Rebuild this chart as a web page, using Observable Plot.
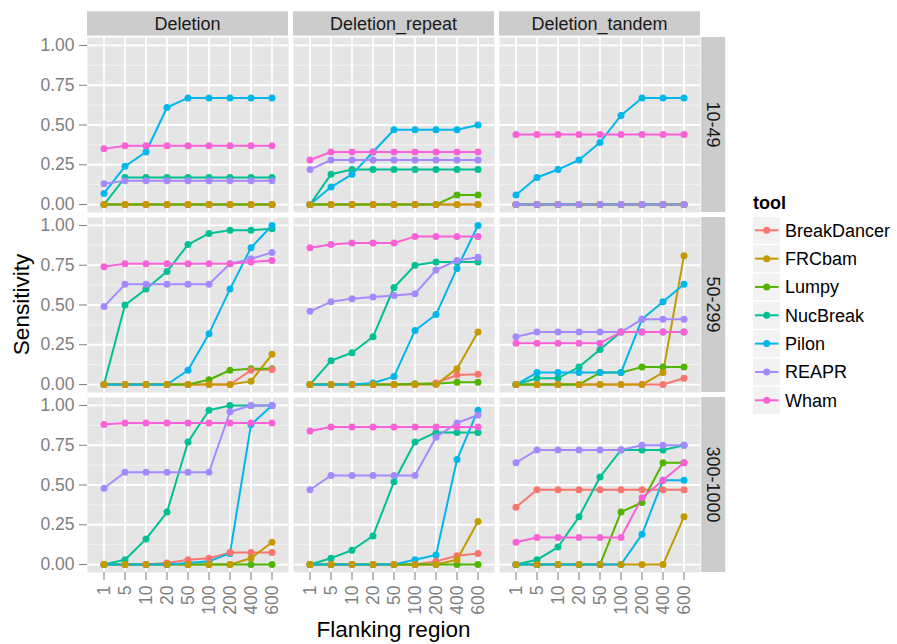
<!DOCTYPE html>
<html><head><meta charset="utf-8">
<script src="https://cdn.jsdelivr.net/npm/d3@7"></script>
<script src="https://cdn.jsdelivr.net/npm/@observablehq/plot@0.6"></script>
<style>html,body{margin:0;padding:0;background:#fff;} #chart svg{display:block;}</style>
</head><body><div id="chart"></div>
<script>
const tools = ["BreakDancer","FRCbam","Lumpy","NucBreak","Pilon","REAPR","Wham"];
const toolColors = ["#F8766D","#C49A00","#53B400","#00C094","#00B6EB","#A58AFF","#FB61D7"];
const flank = ["1","5","10","20","50","100","200","400","600"];
const svTypes = ["Deletion","Deletion_repeat","Deletion_tandem"];
const sizeBins = ["10-49","50-299","300-1000"];
const yTicks = [0, 0.25, 0.5, 0.75, 1];
const yMinor = [0.125, 0.375, 0.625, 0.875];

// rows follow the order of `tools`
const deletion_10_49 = [
  [0,0,0,0,0,0,0,0,0],
  [0,0,0,0,0,0,0,0,0],
  [0,0,0,0,0,0,0,0,0],
  [0,0.17,0.17,0.17,0.17,0.17,0.17,0.17,0.17],
  [0.07,0.24,0.33,0.61,0.67,0.67,0.67,0.67,0.67],
  [0.13,0.15,0.15,0.15,0.15,0.15,0.15,0.15,0.15],
  [0.35,0.37,0.37,0.37,0.37,0.37,0.37,0.37,0.37]
];
const deletionRepeat_10_49 = [
  [0,0,0,0,0,0,0,0,0],
  [0,0,0,0,0,0,0,0,0],
  [0,0,0,0,0,0,0,0.06,0.06],
  [0,0.19,0.22,0.22,0.22,0.22,0.22,0.22,0.22],
  [0,0.11,0.19,0.33,0.47,0.47,0.47,0.47,0.50],
  [0.22,0.28,0.28,0.28,0.28,0.28,0.28,0.28,0.28],
  [0.28,0.33,0.33,0.33,0.33,0.33,0.33,0.33,0.33]
];
const deletionTandem_10_49 = [
  [0,0,0,0,0,0,0,0,0],
  [0,0,0,0,0,0,0,0,0],
  [0,0,0,0,0,0,0,0,0],
  [0,0,0,0,0,0,0,0,0],
  [0.06,0.17,0.22,0.28,0.39,0.56,0.67,0.67,0.67],
  [0,0,0,0,0,0,0,0,0],
  [0.44,0.44,0.44,0.44,0.44,0.44,0.44,0.44,0.44]
];
const deletion_50_299 = [
  [0,0,0,0,0,0,0,0.09,0.095],
  [0,0,0,0,0,0,0,0.02,0.19],
  [0,0,0,0,0,0.03,0.09,0.10,0.10],
  [0,0.50,0.60,0.71,0.88,0.95,0.97,0.97,0.98],
  [0,0,0,0,0.09,0.32,0.60,0.86,1.00],
  [0.49,0.63,0.63,0.63,0.63,0.63,0.76,0.79,0.83],
  [0.74,0.76,0.76,0.76,0.76,0.76,0.76,0.77,0.78]
];
const deletionRepeat_50_299 = [
  [0,0,0,0,0,0,0.01,0.06,0.065],
  [0,0,0,0,0,0,0,0.10,0.33],
  [0,0,0,0,0,0.005,0.005,0.015,0.015],
  [0,0.15,0.20,0.30,0.61,0.75,0.77,0.77,0.77],
  [0,0,0,0.01,0.05,0.34,0.44,0.73,1.00],
  [0.46,0.52,0.54,0.55,0.56,0.57,0.72,0.78,0.80],
  [0.86,0.88,0.89,0.89,0.89,0.93,0.93,0.93,0.93]
];
const deletionTandem_50_299 = [
  [0,0,0,0,0,0,0,0,0.04],
  [0,0,0,0,0,0,0,0.075,0.81],
  [0,0,0,0,0.075,0.075,0.11,0.11,0.11],
  [0,0.04,0.04,0.11,0.22,0.33,0.33,0.33,0.33],
  [0,0.075,0.075,0.075,0.075,0.075,0.41,0.52,0.63],
  [0.30,0.33,0.33,0.33,0.33,0.33,0.41,0.41,0.41],
  [0.26,0.26,0.26,0.26,0.26,0.33,0.33,0.33,0.33]
];
const deletion_300_1000 = [
  [0,0,0,0.01,0.03,0.04,0.075,0.075,0.075],
  [0,0,0,0,0,0,0,0.04,0.14],
  [0,0,0,0,0,0,0,0,0],
  [0,0.03,0.16,0.33,0.77,0.97,1,1,1],
  [0,0,0,0,0.01,0.02,0.07,0.88,1],
  [0.48,0.58,0.58,0.58,0.58,0.58,0.96,1,1],
  [0.88,0.89,0.89,0.89,0.89,0.89,0.89,0.89,0.89]
];
const deletionRepeat_300_1000 = [
  [0,0,0,0,0,0,0.02,0.055,0.07],
  [0,0,0,0,0,0,0,0.03,0.27],
  [0,0,0,0,0,0,0,0,0],
  [0,0.04,0.09,0.18,0.52,0.77,0.83,0.83,0.83],
  [0,0,0,0,0,0.03,0.06,0.66,0.97],
  [0.47,0.56,0.56,0.56,0.56,0.56,0.80,0.89,0.94],
  [0.84,0.865,0.865,0.865,0.865,0.865,0.865,0.865,0.865]
];
const deletionTandem_300_1000 = [
  [0.36,0.47,0.47,0.47,0.47,0.47,0.47,0.47,0.47],
  [0,0,0,0,0,0,0,0,0.30],
  [0,0,0,0,0,0.33,0.39,0.64,0.64],
  [0,0.03,0.11,0.30,0.55,0.72,0.72,0.72,0.75],
  [0,0,0,0,0,0,0.19,0.53,0.53],
  [0.64,0.72,0.72,0.72,0.72,0.72,0.75,0.75,0.75],
  [0.14,0.17,0.17,0.17,0.17,0.17,0.42,0.53,0.64]
];

const panels = [
  ["Deletion","10-49",deletion_10_49],
  ["Deletion_repeat","10-49",deletionRepeat_10_49],
  ["Deletion_tandem","10-49",deletionTandem_10_49],
  ["Deletion","50-299",deletion_50_299],
  ["Deletion_repeat","50-299",deletionRepeat_50_299],
  ["Deletion_tandem","50-299",deletionTandem_50_299],
  ["Deletion","300-1000",deletion_300_1000],
  ["Deletion_repeat","300-1000",deletionRepeat_300_1000],
  ["Deletion_tandem","300-1000",deletionTandem_300_1000]
];
const data = [];
for (const [type, size, vals] of panels)
  tools.forEach((tool, i) => vals[i].forEach((v, j) => data.push({type, size, tool, flank: flank[j], value: v})));

const pointOrder = ["Lumpy","NucBreak","Pilon","BreakDancer","FRCbam","REAPR","Wham"];
const dotData = data.slice().sort((a, b) => pointOrder.indexOf(a.tool) - pointOrder.indexOf(b.tool));

const font = "'Liberation Sans', Arial, Helvetica, sans-serif";
const chart = Plot.plot({
  width: 897, height: 644,
  marginLeft: 85.5, marginRight: 196.2, marginTop: 36.4, marginBottom: 71.4,
  facet: {marginTop: 0, marginRight: 0, marginBottom: 0, marginLeft: 0},
  style: {fontFamily: font, background: "#fff", overflow: "visible"},
  fx: {domain: svTypes, paddingInner: 0.0266, paddingOuter: 0, axis: null, label: null},
  fy: {domain: sizeBins, paddingInner: 0.0299, paddingOuter: 0, axis: null, label: null},
  x: {type: "point", domain: flank, padding: 0.6, axis: null, label: null},
  y: {domain: [-0.05, 1.05], axis: null, label: null},
  color: {domain: tools, range: toolColors},
  marks: [
    Plot.frame({fill: "#E5E5E5", stroke: "none"}),
    Plot.gridY(yMinor, {stroke: "#F2F2F2", strokeOpacity: 1, strokeWidth: 0.9}),
    Plot.gridY(yTicks, {stroke: "#ffffff", strokeOpacity: 1, strokeWidth: 1.8}),
    Plot.gridX(flank, {stroke: "#ffffff", strokeOpacity: 1, strokeWidth: 1.8}),
    Plot.line(data, {fx: "type", fy: "size", x: "flank", y: "value", stroke: "tool", z: "tool", strokeWidth: 2}),
    Plot.dot(dotData, {fx: "type", fy: "size", x: "flank", y: "value", fill: "tool", r: 3.5}),
    Plot.axisY(yTicks, {anchor: "left", facetAnchor: "left", tickFormat: d3.format(".2f"), tickSize: 8, tickPadding: 5, fontSize: 17.5, color: "#7F7F7F", label: null}),
    Plot.axisX(flank, {anchor: "bottom", facetAnchor: "bottom", tickRotate: -90, tickSize: 8, tickPadding: 5, fontSize: 17.5, color: "#7F7F7F", label: null})
  ]
});
document.getElementById("chart").appendChild(chart);

(function decorate() {
  const fxs = chart.scale("fx"), fys = chart.scale("fy"), col = chart.scale("color");
  const bw = fxs.bandwidth, bh = fys.bandwidth;
  const svg = d3.select(chart);
  const g = svg.append("g").attr("font-family", font);

  // top strips
  svTypes.forEach(t => {
    const x0 = fxs.apply(t), y0 = fys.apply(sizeBins[0]) - 25.7;
    g.append("rect").attr("x", x0).attr("y", y0).attr("width", bw).attr("height", 24.3).attr("fill", "#CCCCCC");
    g.append("text").attr("x", x0 + bw / 2).attr("y", y0 + 12.15).attr("dy", "0.36em")
      .attr("text-anchor", "middle").attr("font-size", 18).attr("fill", "#1A1A1A").text(t);
  });
  // right strips
  sizeBins.forEach(s => {
    const x0 = fxs.apply(svTypes[svTypes.length - 1]) + bw + 1.2, y0 = fys.apply(s);
    g.append("rect").attr("x", x0).attr("y", y0).attr("width", 24).attr("height", bh).attr("fill", "#CCCCCC");
    g.append("text").attr("transform", `translate(${x0 + 12},${y0 + bh / 2}) rotate(90)`).attr("dy", "0.36em")
      .attr("text-anchor", "middle").attr("font-size", 18).attr("fill", "#1A1A1A").text(s);
  });
  // axis titles
  const pTop = fys.apply(sizeBins[0]), pBottom = fys.apply(sizeBins[2]) + bh;
  const pLeft = fxs.apply(svTypes[0]), pRight = fxs.apply(svTypes[2]) + bw;
  g.append("text").attr("transform", `translate(21,${(pTop + pBottom) / 2}) rotate(-90)`).attr("dy", "0.36em")
    .attr("text-anchor", "middle").attr("font-size", 22.5).attr("fill", "#000").text("Sensitivity");
  g.append("text").attr("x", (pLeft + pRight) / 2).attr("y", 637).attr("text-anchor", "middle")
    .attr("font-size", 22.5).attr("fill", "#000").text("Flanking region");
  // legend
  const lg = g.append("g").attr("text-anchor", "start");
  lg.append("text").attr("x", 753).attr("y", 208.5).attr("text-anchor", "start").attr("font-weight", "bold")
    .attr("font-size", 18).attr("fill", "#000").text("tool");
  tools.forEach((t, i) => {
    const cy = 230.3 + 28.33 * i, c = col.apply(t);
    lg.append("rect").attr("x", 752.5).attr("y", cy - 14.15).attr("width", 28.3).attr("height", 28.3)
      .attr("fill", "#F2F2F2").attr("stroke", "#fff").attr("stroke-width", 1.2);
    lg.append("line").attr("x1", 755).attr("x2", 778.5).attr("y1", cy).attr("y2", cy).attr("stroke", c).attr("stroke-width", 2);
    lg.append("circle").attr("cx", 766.7).attr("cy", cy).attr("r", 3.5).attr("fill", c);
    lg.append("text").attr("x", 785).attr("y", cy).attr("dy", "0.36em").attr("text-anchor", "start")
      .attr("font-size", 18).attr("fill", "#000").text(t);
  });
})();
</script>
</body></html>
